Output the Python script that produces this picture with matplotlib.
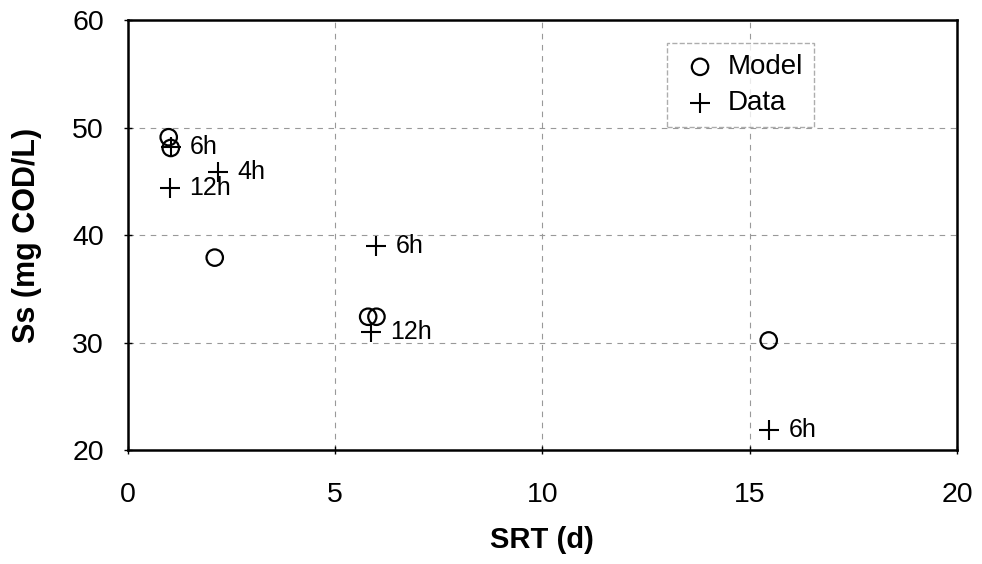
import matplotlib.pyplot as plt

plt.rcParams['font.family'] = ['Liberation Sans', 'DejaVu Sans']

# model values
model_srt = [0.99, 1.04, 2.1, 5.80, 6.0, 15.46]
model_ss = [49.1, 48.1, 37.9, 32.4, 32.4, 30.2]

# measured values
data_srt = [1.04, 1.01, 2.17, 6.0, 5.86, 15.47]
data_ss = [48.2, 44.4, 45.9, 39.0, 31.0, 21.9]
data_labels = ['6h', '12h', '4h', '6h', '12h', '6h']

fig = plt.figure(figsize=(9.82, 5.64), dpi=100)
ax = fig.add_axes([0.130, 0.202, 0.8445, 0.7625])

ax.scatter(model_srt, model_ss, s=140, facecolors='none', edgecolors='black',
           linewidths=1.6, label='Model', zorder=3)
ax.scatter(data_srt, data_ss, s=200, marker='+', color='black',
           linewidths=1.5, label='Data', zorder=4)

for x, y, t in zip(data_srt, data_ss, data_labels):
    ax.annotate(t, (x, y), xytext=(14, 0), textcoords='offset points',
                fontsize=18, va='center', ha='left')

ax.set_xlim(0, 20)
ax.set_ylim(20, 60)
ax.set_xticks([0, 5, 10, 15, 20])
ax.set_yticks([20, 30, 40, 50, 60])
ax.grid(True, color='#999999', linestyle=(0, (5, 5)), linewidth=0.8)
ax.tick_params(labelsize=20.5, length=6, width=1, direction='inout')
ax.tick_params(axis='x', pad=20)
ax.tick_params(axis='y', pad=14)
for s in ax.spines.values():
    s.set_linewidth(1.8)

ax.set_xlabel('SRT (d)', fontsize=21, fontweight='bold')
ax.set_ylabel('Ss (mg COD/L)', fontsize=22, fontweight='bold')
ax.xaxis.set_label_coords(0.5, -0.21)
ax.xaxis.label.set_va('center')
ax.yaxis.set_label_coords(-0.1218, 0.5)
ax.yaxis.label.set_va('center')

leg = ax.legend(loc='upper left', bbox_to_anchor=(0.650, 0.9465), fontsize=20,
                frameon=True, fancybox=False, handletextpad=0.2,
                handlelength=1.6, borderpad=0.4, labelspacing=0.35,
                borderaxespad=0)
leg.get_frame().set_edgecolor('#999999')
leg.get_frame().set_linestyle('--')
leg.get_frame().set_linewidth(1.0)

plt.savefig('out.png', dpi=100)
